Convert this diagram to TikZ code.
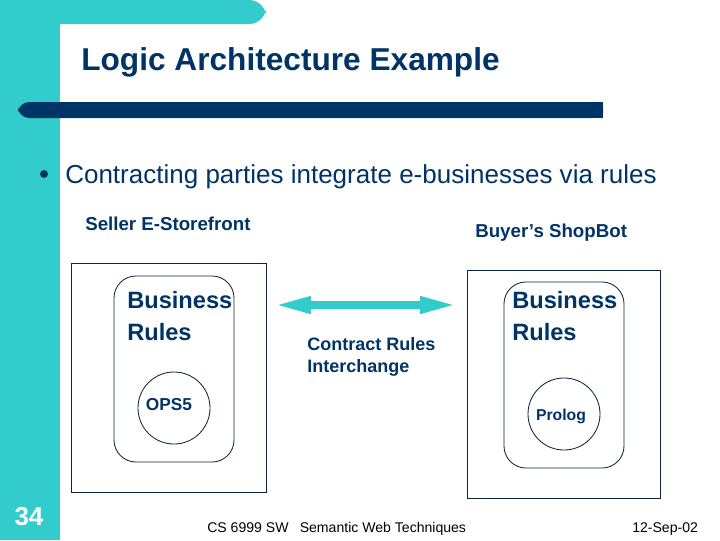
\documentclass[tikz,border=0pt]{standalone}
\usepackage{fontspec}
\setmainfont{Liberation Sans}
\usepackage{tikz}
\usetikzlibrary{arrows.meta,positioning,calc}
\definecolor{sTeal}{HTML}{33CCCC}
\definecolor{sNavy}{HTML}{003366}
\definecolor{sLine}{HTML}{0D2440}
\tikzset{
  >=Stealth,
  txt/.style   ={inner sep=0pt,text=sNavy,align=left},
  outerbox/.style={rectangle,draw=sLine,line width=0.7pt,inner sep=0pt},
  rulebox/.style ={rectangle,rounded corners=0.55cm,draw=sLine,line width=0.6pt,inner sep=0pt,minimum width=3cm,minimum height=4.65cm},
  engine/.style  ={circle,draw=sLine,line width=0.6pt,inner sep=0pt,minimum size=1.8cm,text=sNavy,font=\bfseries},
  xchg/.style    ={{Triangle[length=27pt,width=11pt]}-{Triangle[length=27pt,width=11pt]},line width=5.7pt,sTeal},
}

\begin{document}
\begin{tikzpicture}[x=0.025cm,y=-0.025cm,
    big/.style={txt,font=\fontsize{16.8}{22.8}\selectfont\bfseries},
    lab/.style={txt,font=\fontsize{13.3}{15.6}\selectfont\bfseries}]
  \useasboundingbox (0,0) rectangle (720,540);
  % slide frame
  \fill[sTeal] (0,0) rectangle (60,540);
  \fill[sTeal,rounded corners=12pt] (0,0) -- (266,0) -- (266,24) -- (0,24) -- cycle;
  \fill[sTeal] (0,0) rectangle (250,24);
  \fill[sNavy,rounded corners=8pt] (18,102) -- (603,102) -- (603,118) -- (18,118) -- cycle;
  \fill[sNavy] (40,102) rectangle (603,118);

  \node[txt,anchor=base west,font=\fontsize{22.5}{26}\selectfont\bfseries] (title) at (81,70) {Logic Architecture Example};
  \fill[sNavy] (44,174) circle (4);
  \node[txt,anchor=base west,font=\fontsize{18.5}{22}\selectfont] (point) at (65,183) {Contracting parties integrate e-businesses via rules};

  \node[lab,anchor=base west] (seller) at (85,230) {Seller E-Storefront};
  \node[lab,anchor=base west] (buyer)  at (475,237) {Buyer’s ShopBot};

  % seller side
  \node[outerbox,minimum width=4.85cm,minimum height=5.7cm] (sbox) at (169,378) {};
  \node[rulebox] (srules) at (174,369) {};
  \node[big,anchor=west] (stext) at (127,316) {Business\\Rules};
  \node[engine,font=\fontsize{12.3}{14}\selectfont\bfseries] (ops) at (174,408) {};
  \node[txt,font=\fontsize{12.3}{14}\selectfont\bfseries] at (169,405) {OPS5};

  % buyer side
  \node[outerbox,minimum width=4.8cm,minimum height=5.675cm] (bbox) at (564,384.5) {};
  \node[rulebox] (brules) at (564,375) {};
  \node[big,anchor=west] (btext) at (512,316) {Business\\Rules};
  \node[engine,font=\fontsize{11.2}{13}\selectfont\bfseries] (prolog) at (564,414) {};
  \node[txt,font=\fontsize{11.2}{13}\selectfont\bfseries] at (561,416) {Prolog};

  % interchange
  \coordinate (xl) at (273,305);
  \coordinate (xr) at (458,305);
  \draw[xchg] (xl) -- (xr);
  \node[lab,font=\fontsize{12.8}{15.6}\selectfont\bfseries,anchor=west] (contract) at (307,357) {Contract Rules\\Interchange};

  % footer
  \node[txt,text=white,font=\fontsize{18.5}{20}\selectfont\bfseries] (page) at (29,517) {34};
  \node[txt,text=black,anchor=base west,font=\fontsize{10}{12}\selectfont] (course) at (207,532) {CS 6999 SW\hspace{8pt}Semantic Web Techniques};
  \node[txt,text=black,anchor=base west,font=\fontsize{10}{12}\selectfont] (date) at (632,532) {12-Sep-02};
\end{tikzpicture}
\end{document}
